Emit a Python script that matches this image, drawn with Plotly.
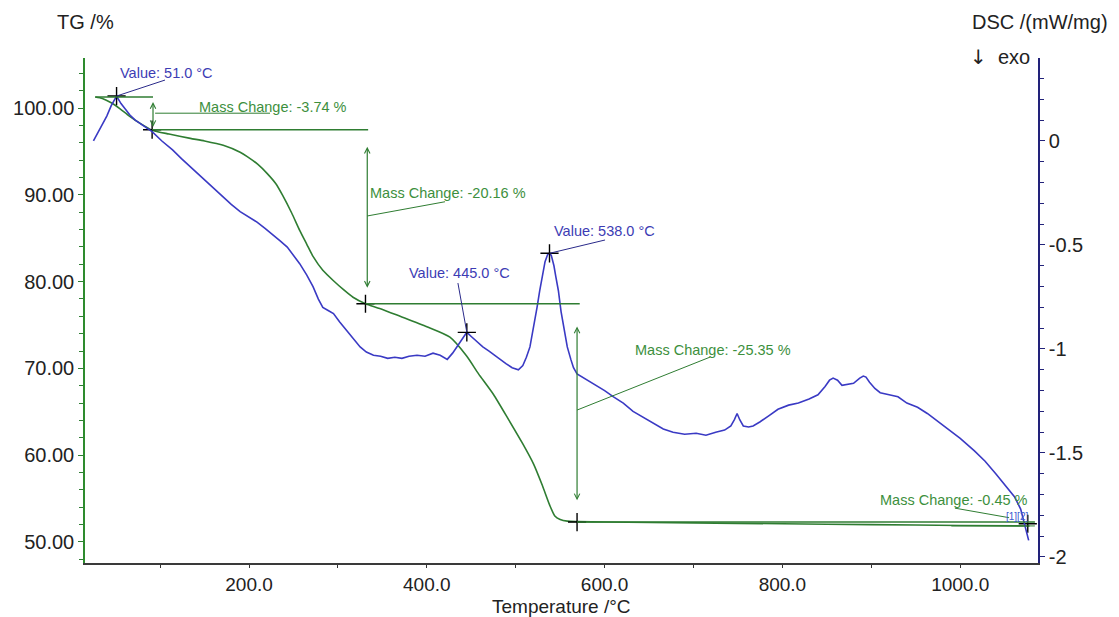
import plotly.graph_objects as go
import numpy as np

# ---------------- data ----------------
tg_T = [27, 35, 45, 55, 65, 78, 91, 110, 134, 150, 171, 190, 198, 210, 220, 230, 238, 248,
        257, 265, 272, 283, 295, 306, 317, 331, 347, 370, 400, 426, 445, 458, 475, 492, 508,
        520, 530, 538, 544, 550, 558, 569, 600, 700, 800, 900, 1000, 1078]
tg_val = [101.27, 101.1, 100.6, 99.9, 99.1, 98.2, 97.45, 97.0, 96.5, 96.2, 95.7, 94.9, 94.4,
          93.5, 92.5, 91.3, 89.9, 87.9, 85.9, 84.3, 82.9, 81.3, 80.1, 79.1, 78.2, 77.45, 76.9,
          76.0, 74.8, 73.6, 71.4, 69.4, 67.0, 64.1, 61.3, 59.0, 56.5, 54.3, 53.0, 52.6, 52.4,
          52.35, 52.3, 52.2, 52.1, 52.0, 51.9, 51.85]

dsc_T = [25, 30, 35, 40, 45, 51, 56, 61, 66, 72, 80, 91, 102, 114, 124, 134, 143, 153, 162,
         171, 180, 190, 200, 209, 218, 227, 235, 243, 250, 257, 265, 272, 278, 283, 289, 295,
         302, 310, 318, 325, 332, 340, 348, 356, 364, 372, 380, 389, 398, 407, 415, 423, 429,
         434, 440, 445, 450, 456, 463, 470, 476, 482, 489, 496, 503, 508, 512, 516, 520, 524,
         527, 530, 533, 536, 538, 540, 543, 545, 548, 551, 555, 558, 562, 565, 569, 577, 584,
         592, 600, 610, 621, 632, 644, 655, 666, 677, 690, 703, 714, 725, 735, 742, 746, 749,
         752, 756, 762, 767, 775, 785, 795, 807, 818, 830, 840, 848, 853, 857, 862, 867, 873,
         880, 887, 891, 894, 898, 904, 910, 920, 930, 940, 952, 963, 975, 988, 1000, 1016,
         1028, 1040, 1050, 1061, 1068, 1073, 1077]
dsc_val = [0.00, 0.04, 0.08, 0.12, 0.17, 0.216, 0.18, 0.15, 0.125, 0.10, 0.075, 0.045, 0.00,
           -0.043, -0.085, -0.125, -0.16, -0.20, -0.235, -0.27, -0.305, -0.34, -0.365, -0.39,
           -0.42, -0.45, -0.48, -0.51, -0.55, -0.59, -0.645, -0.70, -0.76, -0.80, -0.815,
           -0.83, -0.87, -0.91, -0.95, -0.99, -1.015, -1.03, -1.035, -1.045, -1.04, -1.045,
           -1.035, -1.03, -1.035, -1.02, -1.03, -1.05, -1.02, -0.99, -0.95, -0.92, -0.94,
           -0.965, -0.99, -1.01, -1.03, -1.05, -1.07, -1.09, -1.10, -1.08, -1.04, -0.99, -0.90,
           -0.80, -0.72, -0.64, -0.58, -0.545, -0.54, -0.55, -0.60, -0.65, -0.72, -0.82, -0.93,
           -0.99, -1.05, -1.09, -1.12, -1.14, -1.16, -1.18, -1.20, -1.23, -1.26, -1.30, -1.33,
           -1.36, -1.385, -1.40, -1.41, -1.405, -1.415, -1.40, -1.39, -1.37, -1.34, -1.31,
           -1.34, -1.37, -1.375, -1.37, -1.35, -1.32, -1.29, -1.27, -1.26, -1.24, -1.22, -1.18,
           -1.15, -1.14, -1.15, -1.175, -1.17, -1.165, -1.14, -1.13, -1.135, -1.16, -1.19,
           -1.21, -1.22, -1.23, -1.26, -1.28, -1.31, -1.35, -1.39, -1.43, -1.49, -1.54, -1.60,
           -1.65, -1.71, -1.77, -1.86, -1.92]

# evaluated points
peak_T = [51.0, 445.0, 538.0]
peak_labels = ["Value: 51.0 °C", "Value: 445.0 °C", "Value: 538.0 °C"]
step_T = [27, 91, 331, 569, 1076]
step_TG = [101.27, 97.5, 77.45, 52.3, 51.85]
mass_labels = ["Mass Change: -3.74 %", "Mass Change: -20.16 %",
               "Mass Change: -25.35 %", "Mass Change: -0.45 %"]

x_tick_vals = [200, 400, 600, 800, 1000]
x_tick_text = ["200.0", "400.0", "600.0", "800.0", "1000.0"]
tg_tick_vals = [50, 60, 70, 80, 90, 100]
tg_tick_text = ["50.00", "60.00", "70.00", "80.00", "90.00", "100.00"]
dsc_tick_vals = [0, -0.5, -1, -1.5, -2]
dsc_tick_text = ["0", "-0.5", "-1", "-1.5", "-2"]

# ---------------- styles ----------------
GREEN = "#2f7d32"
GREEN_TXT = "#3d8f3d"
BLUE = "#3a3ac4"
BLUE_TXT = "#3c3cb4"
FONT = "Liberation Sans, Arial, sans-serif"
TXT = "#222222"

fig = go.Figure()
fig.add_trace(go.Scatter(x=tg_T, y=tg_val, mode="lines", yaxis="y",
                         line=dict(color=GREEN, width=1.6, shape="spline", smoothing=0.6),
                         hoverinfo="skip"))
fig.add_trace(go.Scatter(x=dsc_T, y=dsc_val, mode="lines", yaxis="y2",
                         line=dict(color=BLUE, width=1.6), hoverinfo="skip"))

# level lines of the mass changes
level_spans = [(step_T[0], step_T[1] + 1), (step_T[1], 334), (step_T[2], 572), (step_T[3], 1084)]
for (x0, x1), lv in zip(level_spans, step_TG[:4]):
    fig.add_shape(type="line", xref="x", yref="y", x0=x0, x1=x1, y0=lv, y1=lv,
                  line=dict(color=GREEN, width=1.4))
fig.add_shape(type="line", xref="x", yref="y", x0=990, x1=1084, y0=step_TG[4], y1=step_TG[4],
              line=dict(color=GREEN, width=1.0))

# double arrows
arrow_specs = [(92, 100.85, 97.8), (333, 95.7, 79.3), (569, 75.0, 54.8)]
for T, ya, yb in arrow_specs:
    fig.add_annotation(x=T, y=yb, ax=T, ay=ya, xref="x", yref="y", axref="x", ayref="y",
                       text="", showarrow=True, arrowhead=5, startarrowhead=5,
                       arrowside="end+start", arrowsize=0.9, arrowwidth=1.2,
                       arrowcolor=GREEN, standoff=0, startstandoff=0)

# green leaders
green_leaders = [((94.4, 99.4), (223.6, 99.4)), ((333, 87.56), (420.5, 89.2)),
                 ((569, 65.2), (718.6, 71.3)), ((994, 53.9), (1055, 52.8))]
for (xa, ya), (xb, yb) in green_leaders:
    fig.add_shape(type="line", xref="x", yref="y", x0=xa, y0=ya, x1=xb, y1=yb,
                  line=dict(color=GREEN, width=1.0))

# blue leaders
peak_vals = list(np.interp(peak_T, dsc_T, dsc_val))
blue_leader_ends = [(105.5, 0.293), (435.0, -0.683), (600.5, -0.476)]
for T, v, (xb, yb) in zip(peak_T, peak_vals, blue_leader_ends):
    fig.add_shape(type="line", xref="x", yref="y2", x0=T, y0=v, x1=xb, y1=yb,
                  line=dict(color="#2a2a8a", width=1.0))

# crosses
fig.add_trace(go.Scatter(x=peak_T, y=peak_vals, mode="markers", yaxis="y2",
                         marker=dict(symbol="cross-thin", size=13,
                                     line=dict(color="black", width=1.4)),
                         hoverinfo="skip"))
fig.add_trace(go.Scatter(x=step_T[1:], y=step_TG[1:4] + [step_TG[3] - 0.2], mode="markers",
                         yaxis="y",
                         marker=dict(symbol="cross-thin", size=13,
                                     line=dict(color="black", width=1.4)),
                         hoverinfo="skip"))

# value labels
peak_text_pos = [(52.6, 0.327), (377.7, -0.635), (540.8, -0.433)]
for (x, y), t in zip(peak_text_pos, peak_labels):
    fig.add_annotation(x=x, y=y, xref="x", yref="y2", text=t, showarrow=False,
                       xanchor="left", yanchor="middle",
                       font=dict(family=FONT, size=14.5, color=BLUE_TXT))

mass_text_pos = [(141.5, 100.1), (333.9, 90.2), (632, 72.1), (907.5, 54.8)]
for (x, y), t in zip(mass_text_pos, mass_labels):
    fig.add_annotation(x=x, y=y, xref="x", yref="y", text=t, showarrow=False,
                       xanchor="left", yanchor="middle",
                       font=dict(family=FONT, size=14.5, color=GREEN_TXT))

fig.add_annotation(x=1064, y=52.95, xref="x", yref="y", text="[1][2]", showarrow=False,
                   xanchor="center", yanchor="middle",
                   font=dict(family=FONT, size=10, color="#3a5ad0"))

# axis titles
fig.add_annotation(x=-0.0315, y=1.0713, xref="paper", yref="paper", text="TG /%",
                   showarrow=False, xanchor="left", yanchor="middle",
                   font=dict(family=FONT, size=20, color=TXT))
fig.add_annotation(x=1.0756, y=1.0713, xref="paper", yref="paper", text="DSC /(mW/mg)",
                   showarrow=False, xanchor="right", yanchor="middle",
                   font=dict(family=FONT, size=20, color=TXT))
fig.add_annotation(x=0.9266, y=1.002, xref="paper", yref="paper",
                   text="<span style='font-family:DejaVu Sans'>↓</span>  exo",
                   showarrow=False, xanchor="left", yanchor="middle",
                   font=dict(family=FONT, size=20, color=TXT))
fig.add_annotation(x=0.5, y=-0.086, xref="paper", yref="paper", text="Temperature /°C",
                   showarrow=False, xanchor="center", yanchor="middle",
                   font=dict(family=FONT, size=19, color=TXT))

tickfont = dict(family=FONT, size=20, color=TXT)
fig.update_layout(
    width=1119, height=617,
    margin=dict(l=85, r=81, t=58, b=54),
    paper_bgcolor="white", plot_bgcolor="white",
    showlegend=False,
    xaxis=dict(range=[15.5, 1087.5], tickmode="array", tickvals=x_tick_vals,
               ticktext=x_tick_text, ticks="outside", ticklen=3, tickwidth=1.2,
               tickcolor="#333", showline=True, linecolor="#3a3a3a", linewidth=1.5,
               showgrid=False, zeroline=False,
               tickfont=dict(family=FONT, size=19, color=TXT),
               minor=dict(dtick=100, tick0=0, ticks="outside", ticklen=3,
                          tickcolor="#333", tickwidth=1.2, showgrid=False)),
    yaxis=dict(range=[47.58, 105.76], tickmode="array", tickvals=tg_tick_vals,
               ticktext=tg_tick_text, ticks="outside", ticklen=5, tickwidth=1.2,
               tickcolor="#2e7d32", showline=True, linecolor="#2e8b2e", linewidth=1.5,
               showgrid=False, zeroline=False, tickfont=tickfont,
               minor=dict(dtick=2, tick0=0, ticks="outside", ticklen=4,
                          tickcolor="#2e7d32", tickwidth=1.0, showgrid=False)),
    yaxis2=dict(range=[-2.029, 0.399], overlaying="y", side="right", anchor="x",
                tickmode="array", tickvals=dsc_tick_vals, ticktext=dsc_tick_text,
                ticks="outside", ticklen=5, tickwidth=1.2, tickcolor="#22227a",
                showline=True, linecolor="#22227a", linewidth=1.5, showgrid=False,
                zeroline=False, tickfont=tickfont,
                minor=dict(dtick=0.1, tick0=0, ticks="outside", ticklen=4,
                           tickcolor="#22227a", tickwidth=1.0, showgrid=False)),
)

fig.write_html("out.html")
